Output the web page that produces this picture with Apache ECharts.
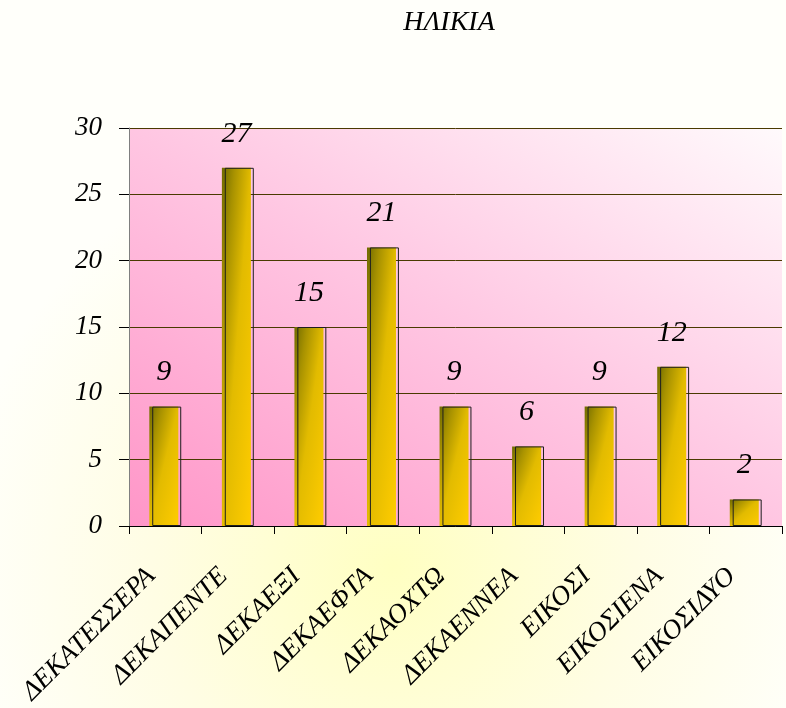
<!DOCTYPE html>
<html>
<head>
<meta charset="utf-8">
<script src="https://cdn.jsdelivr.net/npm/echarts@6/dist/echarts.min.js"></script>
<style>
  html, body { margin: 0; padding: 0; background: #ffffff; }
  #chart { width: 786px; height: 708px; }
</style>
</head>
<body>
<div id="chart"></div>
<script>
// Ages of the respondents
const categories = ['ΔΕΚΑΤΕΣΣΕΡΑ', 'ΔΕΚΑΠΕΝΤΕ', 'ΔΕΚΑΕΞΙ', 'ΔΕΚΑΕΦΤΑ', 'ΔΕΚΑΟΧΤΩ', 'ΔΕΚΑΕΝΝΕΑ', 'ΕΙΚΟΣΙ', 'ΕΙΚΟΣΙΕΝΑ', 'ΕΙΚΟΣΙΔΥΟ'];
const counts = [9, 27, 15, 21, 9, 6, 9, 12, 2];
const titleText = 'ΗΛΙΚΙΑ';

const FONT = '"Liberation Serif", "DejaVu Serif", serif';
const BAR_W = 29;

// Diagonal gradient whose isolines run corner-to-corner of the shape's own box
// (t = (u + v) / 2 in box-normalised coordinates), expressed for a w x h box.
function boxDiagonal(w, h, stops, fromBottom) {
  const k = 2 / (1 / (w * w) + 1 / (h * h));
  const dx = k / (w * w), dy = k / (h * h);
  return fromBottom
    ? { type: 'linear', x: 0, y: 1, x2: dx, y2: 1 - dy, colorStops: stops }
    : { type: 'linear', x: 0, y: 0, x2: dx, y2: dy, colorStops: stops };
}

const barStops = [
  { offset: 0, color: '#6f6a00' },
  { offset: 0.22, color: '#a89200' },
  { offset: 0.5, color: '#e2bb00' },
  { offset: 1, color: '#ffcc00' }
];

const chart = echarts.init(document.getElementById('chart'), null, { renderer: 'canvas' });

const gridBox = { left: 129, right: 4, top: 128, bottom: 182 };

chart.setOption({
  animation: false,
  backgroundColor: {
    type: 'radial', x: 0.5, y: 0.8, r: 0.62,
    colorStops: [
      { offset: 0, color: '#ffffc2' },
      { offset: 0.55, color: '#fffde4' },
      { offset: 1, color: '#fffffa' }
    ]
  },
  title: {
    text: titleText,
    left: 444, top: 4, textAlign: 'center',
    textStyle: { fontFamily: FONT, fontStyle: 'italic', fontWeight: 'normal', fontSize: 28, color: '#000' }
  },
  grid: Object.assign({
    show: true,
    borderWidth: 0,
    containLabel: false,
    outerBoundsMode: 'none',
    backgroundColor: boxDiagonal(786 - gridBox.left - gridBox.right, 708 - gridBox.top - gridBox.bottom, [
      { offset: 0, color: '#ff96c8' },
      { offset: 0.5, color: '#ffc6e2' },
      { offset: 1, color: '#fffafc' }
    ], true)
  }, gridBox),
  xAxis: {
    type: 'category',
    data: categories,
    axisLine: { lineStyle: { color: '#000', width: 1 } },
    axisTick: { show: true, length: 8, lineStyle: { color: '#000' } },
    axisLabel: {
      rotate: 45, margin: 32, interval: 0, padding: [0, 20, 0, 0],
      fontFamily: FONT, fontStyle: 'italic', fontSize: 27, color: '#000'
    }
  },
  yAxis: {
    type: 'value', min: 0, max: 30, interval: 5,
    axisLine: { show: true, lineStyle: { color: '#7f7f7f', width: 1 } },
    axisTick: { show: true, length: 10, lineStyle: { color: '#000' } },
    splitLine: { show: true, lineStyle: { color: '#4a3a00', width: 1 } },
    axisLabel: { margin: 27, fontFamily: FONT, fontStyle: 'italic', fontSize: 27, color: '#000' }
  },
  series: [
    {
      id: 'fill',
      type: 'bar',
      data: counts,
      barWidth: BAR_W,
      barGap: '-90%',
      itemStyle: { color: '#e0b800' },
      label: {
        show: true, position: 'top', distance: 19,
        fontFamily: FONT, fontStyle: 'italic', fontSize: 30, color: '#000'
      }
    },
    {
      id: 'outline',
      type: 'bar',
      data: counts,
      barWidth: BAR_W,
      silent: true,
      itemStyle: { color: 'rgba(0,0,0,0)', borderColor: '#1e1e1e', borderWidth: 1 }
    }
  ]
});

// Each bar gets a gradient shaped to its own pixel height.
const zeroPx = chart.convertToPixel({ yAxisIndex: 0 }, 0);
chart.setOption({
  series: [{
    id: 'fill',
    data: counts.map(v => ({
      value: v,
      itemStyle: { color: boxDiagonal(BAR_W, Math.max(1, zeroPx - chart.convertToPixel({ yAxisIndex: 0 }, v)), barStops, false) }
    }))
  }]
});
</script>
</body>
</html>
